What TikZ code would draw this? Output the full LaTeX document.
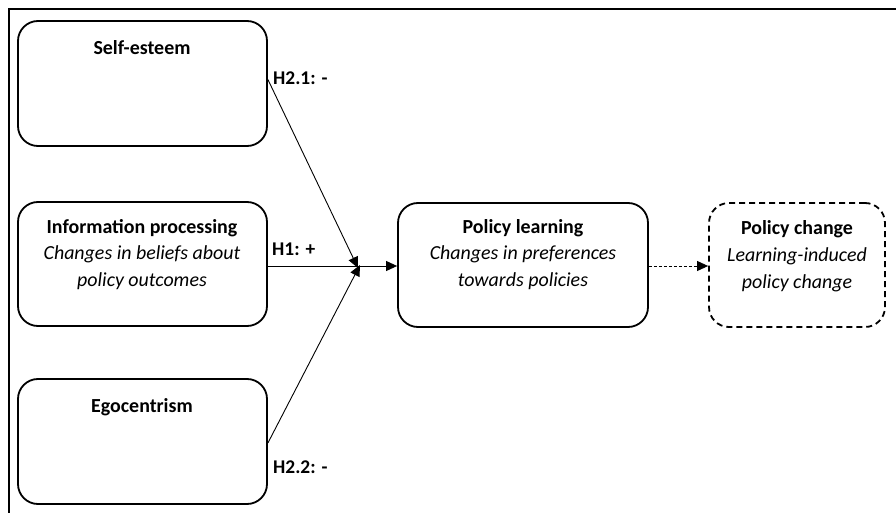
\documentclass[tikz,border=0pt]{standalone}
\usepackage{fontspec}
\setmainfont{Carlito}
\usetikzlibrary{arrows.meta}
\begin{document}
\begin{tikzpicture}[x=1bp,y=-1bp,
  box/.style={draw, line width=1.8bp, rounded corners=20bp, inner sep=0pt},
  ln/.style={inner sep=0pt, anchor=base, font=\fontsize{20}{24}\selectfont},
  hd/.style={ln, font=\fontsize{20}{24}\selectfont\bfseries},
  it/.style={ln, font=\fontsize{20}{24}\selectfont\itshape},
  hyp/.style={inner sep=0pt, anchor=base west, font=\fontsize{19.5}{24}\selectfont\bfseries},
  arr/.style={line width=0.9bp, -{Triangle[length=11bp,width=10bp]}},
  darr/.style={line width=0.9bp, dash pattern=on 3bp off 2bp, -{Triangle[length=11bp,width=10bp]}}]
  \useasboundingbox (0,0) rectangle (896,513);
  % outer frame (top and left edges)
  \draw[line width=1.2bp] (9,513) -- (9,9) -- (896,9);

  % boxes
  \node[box, minimum width=249bp, minimum height=125bp] (se) at (142.5,83.5) {};
  \node[box, minimum width=249bp, minimum height=124bp] (ip) at (142.5,264) {};
  \node[box, minimum width=249bp, minimum height=125bp] (eg) at (142.5,441.5) {};
  \node[box, minimum width=250bp, minimum height=124bp] (pl) at (523,265) {};
  \node[box, dash pattern=on 6bp off 4bp, minimum width=176bp, minimum height=124bp] (pc) at (797,265) {};

  % box texts
  \node[hd] (tse) at (142,55) {Self-esteem};
  \node[hd] (tip1) at (142,234) {Information processing};
  \node[it] (tip2) at (142,260) {Changes in beliefs about};
  \node[it] (tip3) at (142,287) {policy outcomes};
  \node[hd] (teg) at (142,412) {Egocentrism};
  \node[hd] (tpl1) at (523,234) {Policy learning};
  \node[it] (tpl2) at (523,260) {Changes in preferences};
  \node[it] (tpl3) at (523,287) {towards policies};
  \node[hd] (tpc1) at (797,235) {Policy change};
  \node[it] (tpc2) at (797,262) {Learning-induced};
  \node[it] (tpc3) at (797,289) {policy change};

  % connectors
  \coordinate (j) at (359,266);
  \draw[arr] ([yshift=4bp]se.east) -- ([shift={(-1bp,-2bp)}]j);
  \draw[arr] ([yshift=-1.5bp]eg.east) -- ([shift={(1bp,1bp)}]j);
  \draw[arr] (ip.east |- j) -- (pl.west |- j);
  \draw[darr] (pl.east |- j) -- (pc.west |- j);

  % hypothesis labels
  \node[hyp] (h21) at (273,85) {H2.1: -};
  \node[hyp] (h1) at (272,256) {H1: +};
  \node[hyp] (h22) at (273,473) {H2.2: -};
\end{tikzpicture}
\end{document}
